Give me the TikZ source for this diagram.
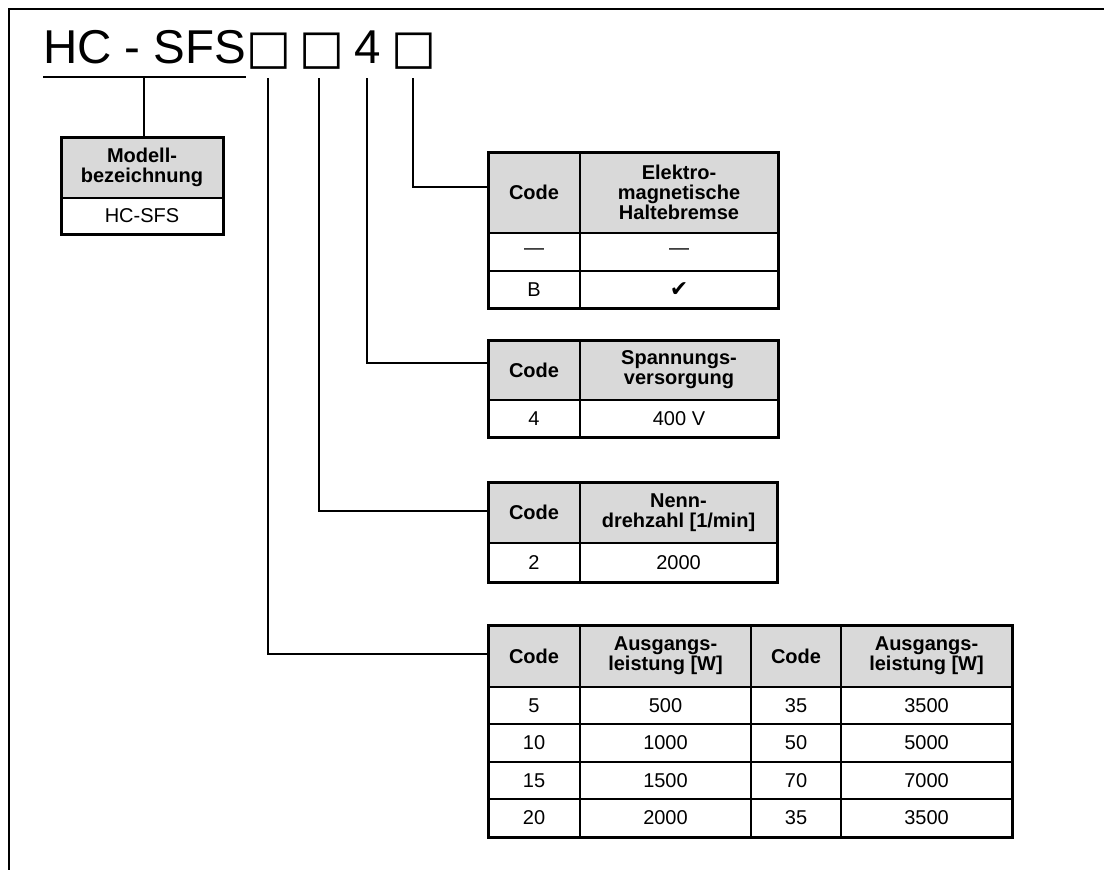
\documentclass[tikz,border=0pt]{standalone}
\usepackage{fontspec}
\setmainfont{Liberation Sans}
\newfontfamily\symfont{DejaVu Sans}
\definecolor{hdr}{RGB}{217,217,217}
\tikzset{
  cell/.style={draw, line width=2pt, inner sep=0pt, outer sep=0pt, align=center,
    anchor=north west, font=\fontsize{20}{20}\selectfont},
  hcell/.style={cell, fill=hdr, font=\fontsize{20}{20}\selectfont\bfseries},
  framel/.style={line width=2.7pt},
  conn/.style={line width=2pt},
  outerl/.style={line width=3pt},
}
\newcommand\cellbox[7]{%
  \node[#6, minimum width={#4-#2}, minimum height={#5-#3}] (#1) at (#2,#3) {#7};}
\begin{document}
\begin{tikzpicture}[x=1pt,y=-1pt]
\useasboundingbox (0,0) rectangle (1104,870);
% frame
\draw[framel] (1104,9) -- (9,9) -- (9,870);
% title
\node[anchor=base west, inner sep=0pt, font=\fontsize{47.5}{50}\selectfont] (title) at (43,63)
  {HC - SFS{\symfont □}\hspace{8pt}{\symfont □}\hspace{10pt}4\hspace{11pt}{\symfont □}};
\coordinate (ul1) at (43,77);
\coordinate (ul2) at (246,77);
\draw[conn] (ul1) -- (ul2);
% model box
\cellbox{mh}{61}{137}{223}{198}{hcell}{Modell-\\bezeichnung}
\cellbox{mv}{61}{198}{223}{234}{cell}{HC-SFS}
\draw[outerl] (mh.north west) rectangle (mv.south east);
\coordinate (m) at (144,77);
\draw[conn] (m) -- (m |- mh.north);
% table 1
\cellbox{ta1}{488}{152}{580}{233}{hcell}{Code}
\cellbox{ta2}{580}{152}{778}{233}{hcell}{Elektro-\\magnetische\\Haltebremse}
\cellbox{ta3}{488}{233}{580}{271}{cell}{—}
\cellbox{ta4}{580}{233}{778}{271}{cell}{—}
\cellbox{ta5}{488}{271}{580}{308}{cell}{B}
\cellbox{ta6}{580}{271}{778}{308}{cell}{{\symfont\fontsize{22}{22}\selectfont ✔}}
\draw[outerl] (ta1.north west) rectangle (ta6.south east);
% table 2
\cellbox{tb1}{488}{340}{580}{400}{hcell}{Code}
\cellbox{tb2}{580}{340}{778}{400}{hcell}{Spannungs-\\versorgung}
\cellbox{tb3}{488}{400}{580}{437}{cell}{4}
\cellbox{tb4}{580}{400}{778}{437}{cell}{400 V}
\draw[outerl] (tb1.north west) rectangle (tb4.south east);
% table 3
\cellbox{tc1}{488}{482}{580}{543}{hcell}{Code}
\cellbox{tc2}{580}{482}{777}{543}{hcell}{Nenn-\\drehzahl [1/min]}
\cellbox{tc3}{488}{543}{580}{582}{cell}{2}
\cellbox{tc4}{580}{543}{777}{582}{cell}{2000}
\draw[outerl] (tc1.north west) rectangle (tc4.south east);
% table 4
\cellbox{td1}{488}{625}{580}{687}{hcell}{Code}
\cellbox{td2}{580}{625}{751}{687}{hcell}{Ausgangs-\\leistung [W]}
\cellbox{td3}{751}{625}{841}{687}{hcell}{Code}
\cellbox{td4}{841}{625}{1012}{687}{hcell}{Ausgangs-\\leistung [W]}
\cellbox{te1}{488}{687}{580}{724}{cell}{5}
\cellbox{te2}{580}{687}{751}{724}{cell}{500}
\cellbox{te3}{751}{687}{841}{724}{cell}{35}
\cellbox{te4}{841}{687}{1012}{724}{cell}{3500}
\cellbox{tf1}{488}{724}{580}{762}{cell}{10}
\cellbox{tf2}{580}{724}{751}{762}{cell}{1000}
\cellbox{tf3}{751}{724}{841}{762}{cell}{50}
\cellbox{tf4}{841}{724}{1012}{762}{cell}{5000}
\cellbox{tg1}{488}{762}{580}{799}{cell}{15}
\cellbox{tg2}{580}{762}{751}{799}{cell}{1500}
\cellbox{tg3}{751}{762}{841}{799}{cell}{70}
\cellbox{tg4}{841}{762}{1012}{799}{cell}{7000}
\cellbox{th1}{488}{799}{580}{837}{cell}{20}
\cellbox{th2}{580}{799}{751}{837}{cell}{2000}
\cellbox{th3}{751}{799}{841}{837}{cell}{35}
\cellbox{th4}{841}{799}{1012}{837}{cell}{3500}
\draw[outerl] (td1.north west) rectangle (th4.south east);
% connectors
\coordinate (s1) at (268,78);
\coordinate (s2) at (319,78);
\coordinate (s3) at (367,78);
\coordinate (s4) at (413,78);
\coordinate (in1) at (488,187);
\coordinate (in2) at (488,363);
\coordinate (in3) at (488,511);
\coordinate (in4) at (488,654);
\draw[conn] (s4) |- (in1);
\draw[conn] (s3) |- (in2);
\draw[conn] (s2) |- (in3);
\draw[conn] (s1) |- (in4);
\end{tikzpicture}
\end{document}
